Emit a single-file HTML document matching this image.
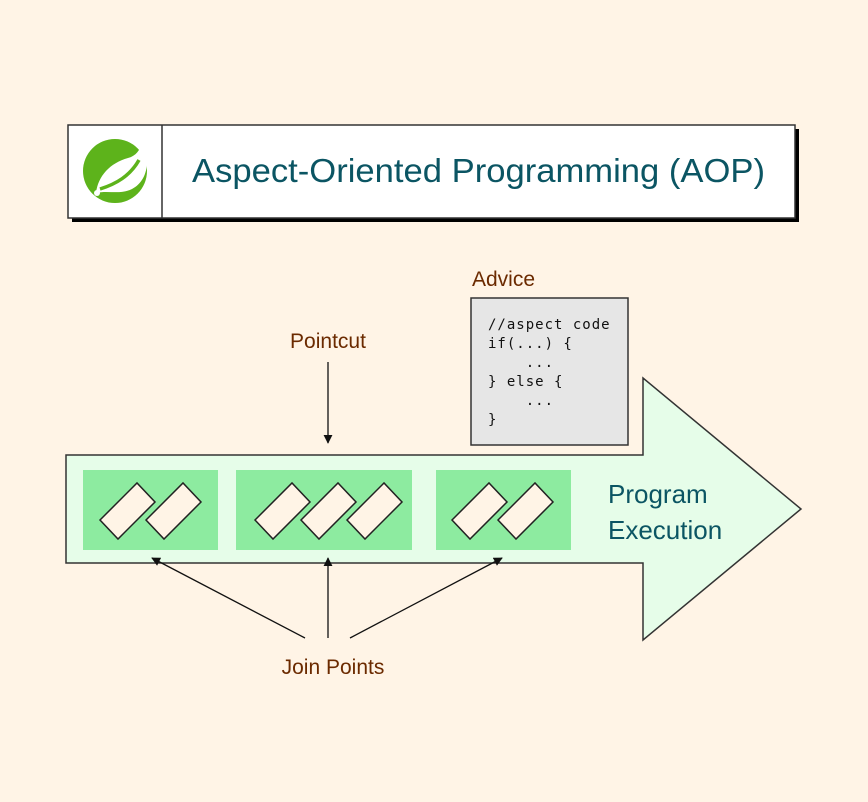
<!DOCTYPE html>
<html><head><meta charset="utf-8"><style>
html,body{margin:0;padding:0;background:#fff4e6;}
svg{display:block;font-family:"Liberation Sans","DejaVu Sans",sans-serif;}
</style></head><body>
<svg width="868" height="802" viewBox="0 0 868 802" xmlns="http://www.w3.org/2000/svg">
<defs>
<marker id="ah" viewBox="0 0 10 10" refX="9" refY="5" markerWidth="9" markerHeight="9" markerUnits="userSpaceOnUse" orient="auto">
<path d="M0,0 L10,5 L0,10 z" fill="#111"/></marker>
<g id="d"><path d="M0,0 L37,-37 L55,-18 L18,19 Z" fill="#fff4e6" stroke="#222" stroke-width="1.5"/></g>
</defs>
<rect x="0" y="0" width="868" height="802" fill="#fff4e6"/>
<!-- title -->
<rect x="72" y="129" width="727" height="93" fill="#000"/>
<rect x="68" y="125" width="727" height="93" fill="#fff" stroke="#333" stroke-width="1.5"/>
<line x1="162" y1="125" x2="162" y2="218" stroke="#333" stroke-width="1.5"/>
<circle cx="115" cy="171" r="32" fill="#5db31b"/>
<path d="M142,143 C152,162 146,182 132,189 C120,195 108,190 96,193 C98,176 110,163 128,158 C136,156 140,150 142,143 Z" fill="#fff"/>
<path d="M100,189 C116,184 130,176 139,160" stroke="#5db31b" stroke-width="3.5" fill="none"/>
<circle cx="97" cy="193" r="3" fill="#fff"/>
<text x="192" y="182" font-size="33" fill="#0b5563" textLength="573" lengthAdjust="spacingAndGlyphs">Aspect-Oriented Programming (AOP)</text>
<!-- arrow -->
<path d="M66,455 L643,455 L643,378 L801,509 L643,640 L643,563 L66,563 Z" fill="#e6fde9" stroke="#333" stroke-width="1.5"/>
<rect x="83" y="470" width="135" height="80" fill="#8deba0"/>
<rect x="236" y="470" width="176" height="80" fill="#8deba0"/>
<rect x="436" y="470" width="135" height="80" fill="#8deba0"/>
<use href="#d" x="100" y="520"/><use href="#d" x="146" y="520"/>
<use href="#d" x="255" y="520"/><use href="#d" x="301" y="520"/><use href="#d" x="347" y="520"/>
<use href="#d" x="452" y="520"/><use href="#d" x="498" y="520"/>
<text x="608" y="503" font-size="26" fill="#0b5563">Program</text>
<text x="608" y="539" font-size="26" fill="#0b5563">Execution</text>
<!-- advice -->
<rect x="471" y="298" width="157" height="147" fill="#e6e6e6" stroke="#333" stroke-width="1.5"/>
<g font-family="'DejaVu Sans Mono','Liberation Mono',monospace" font-size="14" letter-spacing="1" fill="#111">
<text x="488" y="329">//aspect code</text>
<text x="488" y="348">if(...) {</text>
<text x="488" y="367">&#160;&#160;&#160;&#160;...</text>
<text x="488" y="386">} else {</text>
<text x="488" y="405">&#160;&#160;&#160;&#160;...</text>
<text x="488" y="424">}</text>
</g>
<text x="472" y="286" font-size="21" fill="#6b2a00">Advice</text>
<text x="328" y="348" font-size="21" fill="#6b2a00" text-anchor="middle">Pointcut</text>
<line x1="328" y1="362" x2="328" y2="443" stroke="#111" stroke-width="1.3" marker-end="url(#ah)"/>
<text x="333" y="674" font-size="21" fill="#6b2a00" text-anchor="middle">Join Points</text>
<line x1="305" y1="638" x2="152" y2="558" stroke="#111" stroke-width="1.3" marker-end="url(#ah)"/>
<line x1="328" y1="638" x2="328" y2="558" stroke="#111" stroke-width="1.3" marker-end="url(#ah)"/>
<line x1="350" y1="638" x2="502" y2="558" stroke="#111" stroke-width="1.3" marker-end="url(#ah)"/>
</svg>
</body></html>
